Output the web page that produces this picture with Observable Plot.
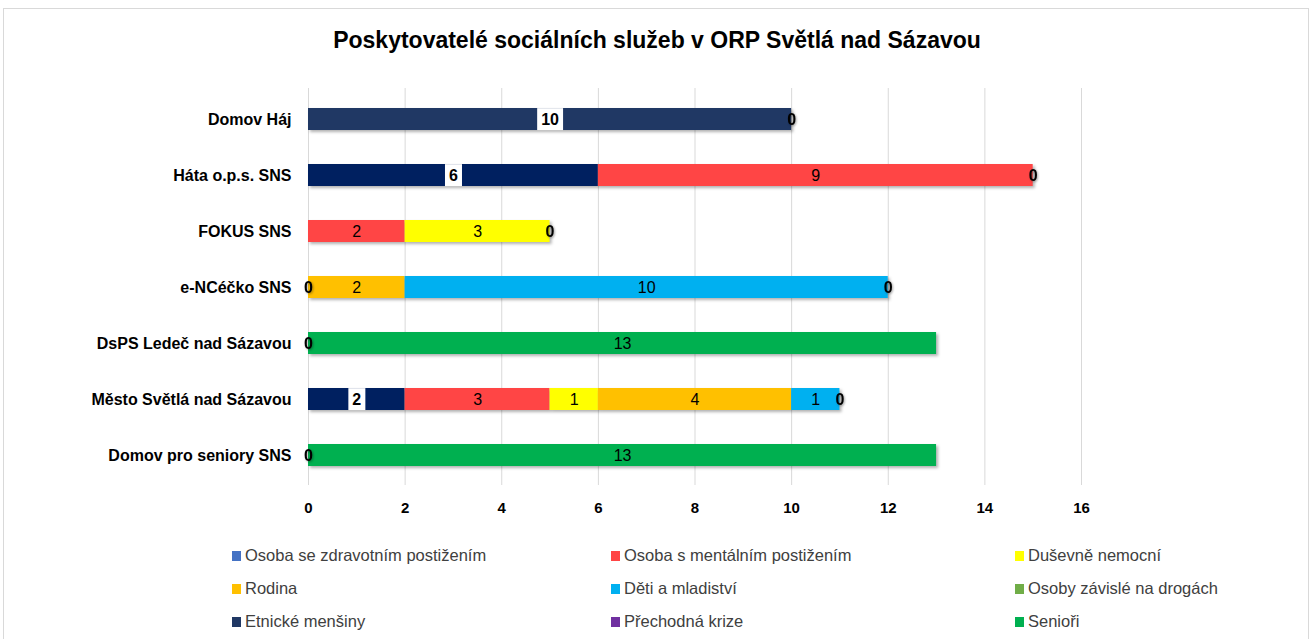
<!DOCTYPE html>
<html>
<head>
<meta charset="utf-8">
<script src="https://cdn.jsdelivr.net/npm/d3@7"></script>
<script src="https://cdn.jsdelivr.net/npm/@observablehq/plot@0.6"></script>
<style>
  html, body { margin: 0; padding: 0; background: #fff; }
  body { width: 1314px; height: 639px; overflow: hidden; position: relative;
         font-family: "Liberation Sans", sans-serif; }
  #frame { position: absolute; left: 3px; top: 8px; width: 1306px; height: 660px;
           border: 1px solid #d9d9d9; box-sizing: border-box; }
  #title { position: absolute; top: 27px; left: 0; width: 1314px; text-align: center;
           font-weight: bold; font-size: 23px; color: #000; }
  #chart { position: absolute; top: 60px; left: 0; }
  #legend { position: absolute; top: 545px; left: 0; width: 1314px; height: 95px; }
  .item { position: absolute; font-size: 16.5px; color: #404040; line-height: 20px; white-space: nowrap; }
  .sw { display: inline-block; width: 9px; height: 10px; margin-right: 4px; }
</style>
</head>
<body>
<div id="frame"></div>
<div id="title">Poskytovatelé sociálních služeb v ORP Světlá nad Sázavou</div>
<div id="chart"></div>
<div id="legend"></div>
<script>
const providers = ["Domov Háj", "Háta o.p.s. SNS", "FOKUS SNS", "e-NCéčko SNS", "DsPS Ledeč nad Sázavou", "Město Světlá nad Sázavou", "Domov pro seniory SNS"];
const seriesNames = ["Osoba se zdravotním postižením", "Osoba s mentálním postižením", "Duševně nemocní", "Rodina", "Děti  a mladiství", "Osoby závislé na drogách", "Etnické menšiny", "Přechodná krize", "Senioři"];
const zdravotni = [null, 6, null, 0, null, 2, null];
const mentalni  = [null, 9, 2, null, null, 3, null];
const dusevne   = [null, 0, 3, null, null, 1, null];
const rodina    = [null, null, 0, 2, null, 4, null];
const deti      = [null, null, null, 10, null, 1, null];
const drogy     = [null, null, null, 0, null, 0, null];
const etnicke   = [10, null, null, null, 0, null, 0];
const krize     = [0, null, null, null, null, null, null];
const seniori   = [null, null, null, null, 13, null, 13];
const xTicks = [0, 2, 4, 6, 8, 10, 12, 14, 16];

const seriesValues = [zdravotni, mentalni, dusevne, rodina, deti, drogy, etnicke, krize, seniori];
const colors = ["#4472C4", "#FF4545", "#FFFF00", "#FFC000", "#00B0F0", "#70AD47", "#203864", "#7030A0", "#00B050"];
const navy = "#002060";

const data = [];
seriesValues.forEach((vals, si) => {
  vals.forEach((v, pi) => {
    if (v !== null) data.push({provider: providers[pi], series: seriesNames[si], si, value: v});
  });
});
const fillOf = d => d.si === 0 ? navy : colors[d.si];
const stackOpts = {y: "provider", z: "series", order: seriesNames, x: "value"};
const isBoxed = d => d.value > 0 && (d.si === 0 || d.si === 6);

const plot = Plot.plot({
  width: 1314,
  height: 470,
  marginLeft: 308,
  marginRight: 233,
  marginTop: 28,
  marginBottom: 45,
  style: {fontFamily: "'Liberation Sans', sans-serif", color: "#000", background: "transparent"},
  x: {domain: [0, 16], ticks: xTicks, tickSize: 0, tickPadding: 17, label: null, grid: false},
  y: {domain: providers, paddingInner: 0.61, paddingOuter: 0.305, tickSize: 0, tickPadding: 17, label: null},
  marks: [
    Plot.gridX(xTicks, {stroke: "#d9d9d9", strokeOpacity: 1, strokeWidth: 1}),
    Plot.barX(data, Plot.stackX({...stackOpts, fill: fillOf})),
    Plot.text(data, Plot.stackX({...stackOpts, text: d => isBoxed(d) ? String(d.value) : null, fill: "#000", fontSize: 16, fontWeight: "bold"})),
    Plot.text(data, Plot.stackX({...stackOpts, text: d => (d.value > 0 && !isBoxed(d)) ? String(d.value) : null, fill: "#000", fontSize: 16})),
    Plot.text(data, Plot.stackX({...stackOpts, text: d => d.value === 0 ? String(d.value) : null, fill: "#000", fontSize: 16, fontWeight: "bold"}))
  ]
});
document.getElementById("chart").appendChild(plot);

plot.querySelectorAll('g[aria-label="y-axis tick label"]').forEach(el => {
  el.setAttribute("font-weight", "bold"); el.setAttribute("font-size", "16");
});
plot.querySelectorAll('g[aria-label="x-axis tick label"]').forEach(el => {
  el.setAttribute("font-weight", "bold"); el.setAttribute("font-size", "15");
});
const barG = plot.querySelector('g[aria-label="bar"]');
if (barG) barG.style.filter = "drop-shadow(2px 2px 1.5px rgba(0,0,0,0.3))";
const textGs = plot.querySelectorAll('g[aria-label="text"]');
if (textGs.length) {
  const g = textGs[0];
  const bandH = 22;
  g.querySelectorAll("text").forEach(t => {
    if (!t.textContent) return;
    const bb = t.getBBox();
    const r = document.createElementNS("http://www.w3.org/2000/svg", "rect");
    const cy = bb.y + bb.height / 2;
    r.setAttribute("x", bb.x - 4);
    r.setAttribute("width", bb.width + 8);
    r.setAttribute("y", cy - bandH / 2);
    r.setAttribute("height", bandH);
    r.setAttribute("fill", "#fff");
    if (t.getAttribute("transform")) r.setAttribute("transform", t.getAttribute("transform"));
    g.insertBefore(r, t);
  });
}
const zeroG = textGs[textGs.length - 1];
if (zeroG) zeroG.style.filter = "drop-shadow(1px 1px 1px rgba(0,0,0,0.35))";

const legendPos = [[232, 0], [611, 0], [1015, 0], [232, 1], [611, 1], [1015, 1], [232, 2], [611, 2], [1015, 2]];
const legend = document.getElementById("legend");
seriesNames.forEach((name, i) => {
  const div = document.createElement("div");
  div.className = "item";
  div.style.left = legendPos[i][0] + "px";
  div.style.top = (legendPos[i][1] * 33) + "px";
  const sw = document.createElement("span");
  sw.className = "sw";
  sw.style.background = colors[i];
  div.appendChild(sw);
  div.appendChild(document.createTextNode(name));
  legend.appendChild(div);
});
</script>
</body>
</html>
